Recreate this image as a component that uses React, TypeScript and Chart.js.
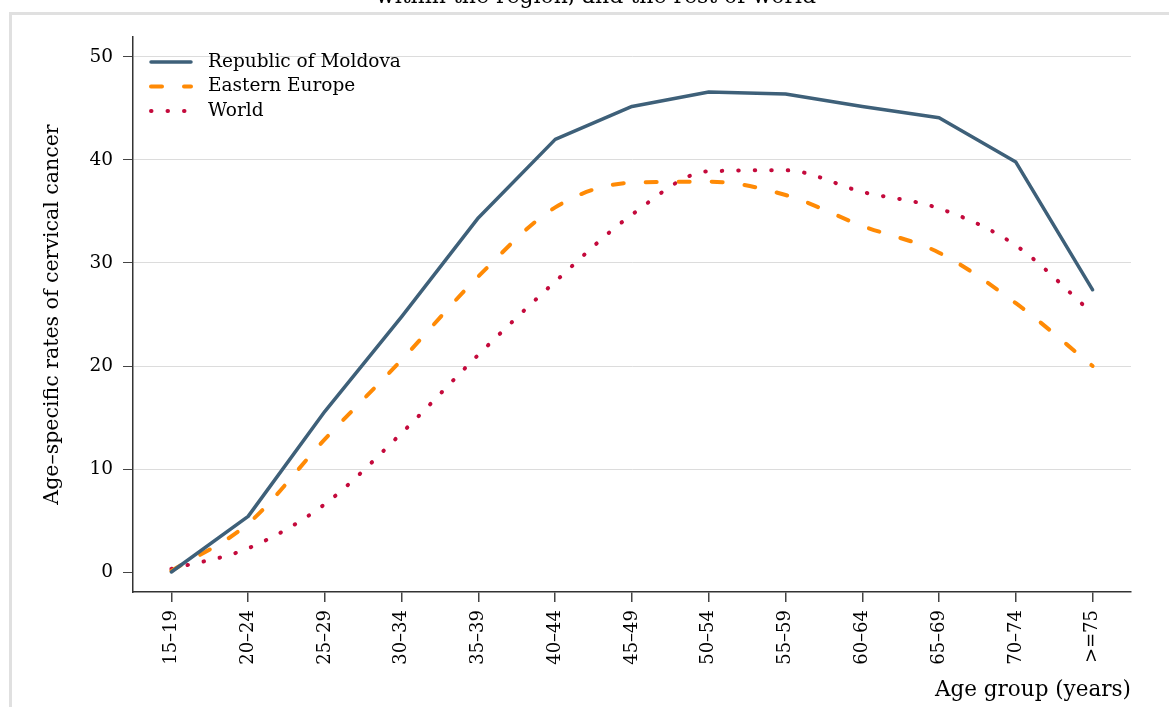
import React, { useEffect, useRef } from "react";
import { Chart, registerables } from "chart.js";

Chart.register(...registerables);

const ageGroups = ["15–19", "20–24", "25–29", "30–34", "35–39", "40–44", "45–49", "50–54", "55–59", "60–64", "65–69", "70–74", ">=75"];
const moldova = [0.0, 5.4, 15.6, 24.8, 34.4, 42.0, 45.2, 46.6, 46.4, 45.2, 44.1, 39.8, 27.4];
const easternEurope = [0.1, 4.7, 12.9, 20.6, 28.7, 35.4, 37.8, 37.9, 36.6, 33.6, 31.0, 26.1, 20.0];
const world = [0.3, 2.3, 6.6, 13.5, 21.1, 28.2, 34.7, 38.9, 39.0, 36.9, 35.3, 31.7, 25.1];
const yTicks = [0, 10, 20, 30, 40, 50];

const FONT = "'DejaVu Serif', serif";

export default function App() {
  const ref = useRef<HTMLCanvasElement | null>(null);

  useEffect(() => {
    if (!ref.current) return;
    const legendPlugin = {
      id: "customLegend",
      afterDraw(chart: any) {
        const ctx = chart.ctx;
        ctx.save();
        ctx.font = `22px ${FONT}`;
        ctx.fillStyle = "#000";
        ctx.textAlign = "center";
        ctx.textBaseline = "alphabetic";
        ctx.fillText("within the region, and the rest of world", 596, 3);
        const x0 = chart.chartArea.left + 18;
        const y0 = chart.chartArea.top + 25;
        chart.data.datasets.forEach((ds: any, i: number) => {
          const y = y0 + i * 24.5;
          ctx.beginPath();
          ctx.strokeStyle = ds.borderColor;
          ctx.lineWidth = ds.borderWidth;
          ctx.lineCap = "round";
          ctx.setLineDash(ds.borderDash || []);
          ctx.moveTo(x0, y);
          ctx.lineTo(x0 + 40, y);
          ctx.stroke();
          ctx.setLineDash([]);
          ctx.font = `18.5px ${FONT}`;
          ctx.fillStyle = "#000";
          ctx.textAlign = "left";
          ctx.textBaseline = "middle";
          ctx.fillText(ds.label, x0 + 57, y);
        });
        ctx.restore();
      },
    };

    const chart = new Chart(ref.current, {
      type: "line",
      data: {
        labels: ageGroups,
        datasets: [
          {
            label: "Republic of Moldova",
            data: moldova,
            borderColor: "#3e6079",
            borderWidth: 3.5,
            pointRadius: 0,
            tension: 0,
            borderCapStyle: "round",
            borderJoinStyle: "round",
          },
          {
            label: "Eastern Europe",
            data: easternEurope,
            borderColor: "#ff8a05",
            borderWidth: 4,
            borderDash: [11, 22],
            borderCapStyle: "round",
            pointRadius: 0,
            cubicInterpolationMode: "monotone",
          },
          {
            label: "World",
            data: world,
            borderColor: "#c40a3c",
            borderWidth: 4,
            borderDash: [0.5, 16],
            borderCapStyle: "round",
            pointRadius: 0,
            cubicInterpolationMode: "monotone",
          },
        ],
      },
      options: {
        responsive: false,
        animation: false,
        layout: { padding: { left: 0, top: 37, right: 38, bottom: 0 } },
        plugins: { legend: { display: false }, tooltip: { enabled: false }, title: { display: false } },
        scales: {
          x: {
            type: "category",
            offset: true,
            grid: { display: true, drawOnChartArea: false, tickLength: 10, tickColor: "#444", offset: false, lineWidth: 1.5 },
            border: { color: "#333", width: 1.5 },
            ticks: {
              minRotation: 90,
              maxRotation: 90,
              autoSkip: false,
              padding: 8,
              color: "#000",
              font: { family: FONT, size: 18 },
            },
            title: {
              display: true,
              text: "Age group (years)",
              align: "end",
              color: "#000",
              font: { family: FONT, size: 21.5 },
              padding: { top: 7, bottom: 4 },
            },
            afterFit: (s: any) => {
              s.height = 115;
            },
          },
          y: {
            min: -1.94,
            max: 51.94,
            afterBuildTicks: (s: any) => {
              s.ticks = yTicks.map((v) => ({ value: v }));
            },
            afterFit: (s: any) => {
              s.width = 133;
            },
            grid: {
              color: (c: any) => (c.tick && c.tick.value === 0 ? "rgba(0,0,0,0)" : "#dcdcdc"),
              tickColor: "#444",
              tickLength: 10,
              lineWidth: 1,
            },
            border: { color: "#333", width: 1.5 },
            ticks: {
              padding: 10,
              color: "#000",
              font: { family: FONT, size: 18.5 },
            },
            title: {
              display: true,
              text: "Age–specific rates of cervical cancer",
              color: "#000",
              font: { family: FONT, size: 20.5 },
              padding: { top: 40, bottom: 0 },
            },
          },
        },
      },
      plugins: [legendPlugin],
    });
    return () => chart.destroy();
  }, []);

  return (
    <div style={{ position: "fixed", left: 0, top: 0, width: 1169, height: 707, overflow: "hidden", background: "#fff" }}>
      <div
        style={{
          position: "absolute",
          left: 9,
          top: 12,
          width: 1200,
          height: 750,
          border: "3px solid #e0e0e0",
          boxSizing: "border-box",
        }}
      />
      <canvas ref={ref} width={1169} height={707} style={{ position: "absolute", left: 0, top: 0 }} />
    </div>
  );
}
